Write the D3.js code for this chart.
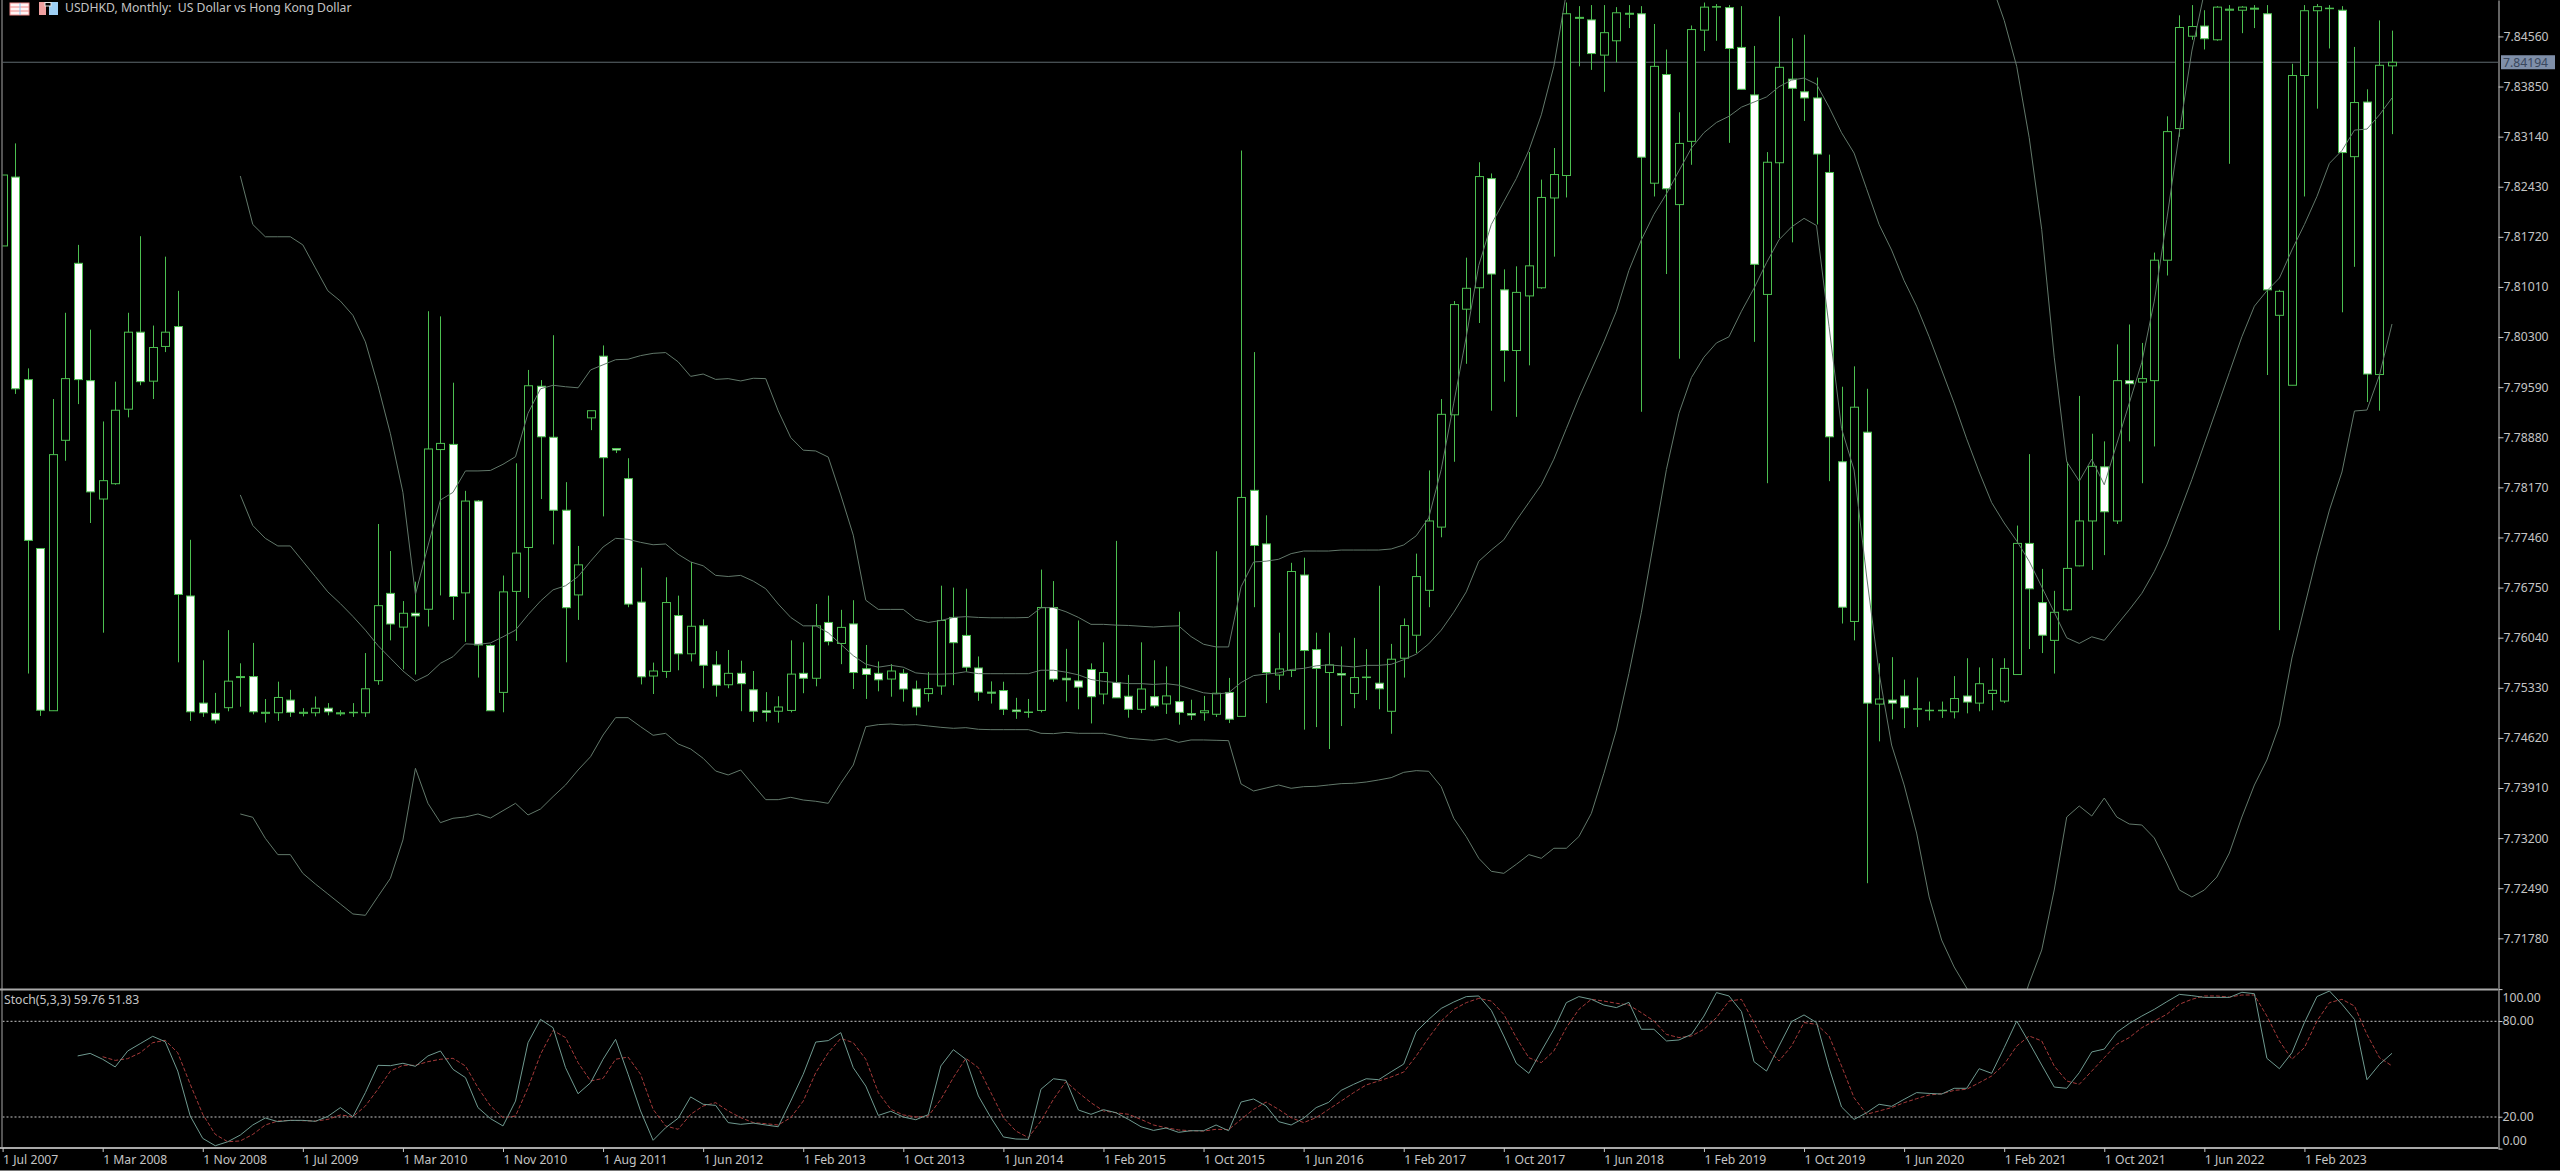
<!DOCTYPE html>
<html><head><meta charset="utf-8">
<script src="https://cdnjs.cloudflare.com/ajax/libs/d3/7.8.5/d3.min.js"></script>
<style>
html,body{margin:0;padding:0;background:#000;overflow:hidden}
svg{display:block}
text{font-family:"Noto Sans",sans-serif;font-size:12.2px;fill:#c4c4c4}
</style></head><body>
<svg id="c" width="2560" height="1171"></svg>
<script>
const titleText = "USDHKD, Monthly:  US Dollar vs Hong Kong Dollar";
const stochText = "Stoch(5,3,3) 59.76 51.83";
const lastPrice = 7.84194;
const priceTicks = [7.84560,7.83850,7.83140,7.82430,7.81720,7.81010,7.80300,7.79590,7.78880,7.78170,7.77460,7.76750,7.76040,7.75330,7.74620,7.73910,7.73200,7.72490,7.71780];
const stochTicks = [100,80,20,0];
const stochLevels = [80,20];
const dateLabels = ["1 Jul 2007","1 Mar 2008","1 Nov 2008","1 Jul 2009","1 Mar 2010","1 Nov 2010","1 Aug 2011","1 Jun 2012","1 Feb 2013","1 Oct 2013","1 Jun 2014","1 Feb 2015","1 Oct 2015","1 Jun 2016","1 Feb 2017","1 Oct 2017","1 Jun 2018","1 Feb 2019","1 Oct 2019","1 Jun 2020","1 Feb 2021","1 Oct 2021","1 Jun 2022","1 Feb 2023"];

const highs = [
7.82596,7.83044,7.79856,7.77304,7.79422,7.80644,7.81606,7.80405,7.79104,7.79668,
7.80644,7.81729,7.80463,7.81439,7.80955,7.77427,7.75720,7.75258,7.76147,7.75677,
7.75966,7.75171,7.75417,7.75301,7.75041,7.75207,7.75113,7.75012,7.75113,7.75822,
7.77651,7.77268,7.76559,7.76834,7.80666,7.80593,7.79653,7.78121,7.77991,7.75945,
7.76921,7.78511,7.79834,7.79690,7.80326,7.78244,7.77340,7.79256,7.80181,7.78728,
7.78583,7.77032,7.75687,7.76896,7.76636,7.77113,7.76300,7.75850,7.75866,7.75714,
7.75568,7.75269,7.75210,7.76002,7.75974,7.76517,7.76636,7.76435,7.76571,7.75937,
7.75703,7.75665,7.75595,7.75432,7.75552,7.76777,7.76750,7.76734,7.75774,7.75421,
7.75416,7.75188,7.75172,7.77005,7.76842,7.75882,7.76284,7.75676,7.75974,7.77412,
7.75513,7.75974,7.75720,7.75633,7.76408,7.75161,7.75215,7.77265,7.75470,7.82943,
7.80087,7.77774,7.76111,7.77101,7.77174,7.76111,7.76111,7.75916,7.76038,7.75879,
7.76776,7.75952,7.76313,7.77231,7.78410,7.79422,7.80810,7.81425,7.82777,7.82618,
7.81259,7.81302,7.82921,7.82531,7.82979,7.85040,7.84989,7.85004,7.85004,7.84975,
7.85004,7.84989,7.84736,7.84375,7.83485,7.84715,7.85040,7.85018,7.85004,7.84989,
7.84425,7.82921,7.84845,7.84534,7.84584,7.83977,7.82885,7.79596,7.79885,7.79567,
7.75677,7.75764,7.75446,7.75475,7.75135,7.75135,7.75496,7.75749,7.75619,7.75749,
7.75749,7.77629,7.78641,7.77015,7.76704,7.78533,7.79466,7.78930,7.78822,7.80196,
7.80478,7.80217,7.81497,7.83428,7.84859,7.85004,7.84931,7.84989,7.85004,7.84989,
7.85004,7.85004,7.80969,7.84172,7.85004,7.85018,7.85004,7.84989,7.84411,7.83811,
7.84787,7.84642];
const lows = [
7.81591,7.79494,7.75532,7.74932,7.75005,7.78547,7.79350,7.77665,7.76111,7.78207,
7.79162,7.79617,7.79422,7.80087,7.75691,7.74860,7.74918,7.74824,7.74997,7.75062,
7.74954,7.74838,7.74860,7.74918,7.74925,7.74925,7.74940,7.74932,7.74918,7.74918,
7.75373,7.76002,7.75590,7.75518,7.76198,7.76639,7.76292,7.75981,7.75475,7.75005,
7.74983,7.75995,7.76602,7.78005,7.77362,7.75691,7.76292,7.78981,7.77759,7.78656,
7.76472,7.75378,7.75242,7.75470,7.75578,7.75703,7.75324,7.75204,7.75324,7.74998,
7.74847,7.74852,7.74836,7.74982,7.75253,7.75351,7.75931,7.75665,7.75313,7.75172,
7.75280,7.75204,7.75134,7.74939,7.75134,7.75231,7.75367,7.75557,7.75145,7.75107,
7.74944,7.74890,7.74906,7.74982,7.75416,7.75134,7.75025,7.74825,7.75096,7.75188,
7.74906,7.74971,7.75042,7.74960,7.74808,7.74874,7.74863,7.74917,7.74830,7.74925,
7.76472,7.75113,7.75301,7.75482,7.74737,7.74773,7.74462,7.74788,7.75041,7.75156,
7.75026,7.74679,7.75475,7.75822,7.76472,7.77463,7.78533,7.79921,7.80499,7.79256,
7.79668,7.79169,7.79899,7.80984,7.81439,7.82278,7.84136,7.84086,7.83775,7.84194,
7.84678,7.79241,7.82292,7.81193,7.79993,7.82741,7.84353,7.84498,7.83052,7.83811,
7.80232,7.78229,7.81700,7.81642,7.83362,7.81895,7.78258,7.76241,7.76002,7.72561,
7.74571,7.74882,7.74759,7.74773,7.74867,7.74903,7.74896,7.74968,7.74997,7.75012,
7.75113,7.75518,7.75879,7.75822,7.75532,7.76415,7.77051,7.77000,7.77210,7.77651,
7.78822,7.78229,7.78750,7.81172,7.83138,7.84512,7.84375,7.84498,7.82755,7.84606,
7.84678,7.79762,7.76147,7.79617,7.82292,7.83536,7.84389,7.80651,7.81295,7.79379,
7.79256,7.83175];
const opens = [
7.81591,7.82567,7.79697,7.77304,7.75005,7.78837,7.81345,7.79682,7.78005,7.78222,
7.79278,7.80369,7.79675,7.80167,7.80449,7.76631,7.75113,7.74968,7.75048,7.75475,
7.75489,7.74968,7.74976,7.75156,7.74968,7.74976,7.75041,7.74961,7.74976,7.74976,
7.75431,7.76668,7.76190,7.76386,7.76443,7.78706,7.78779,7.76675,7.77976,7.75930,
7.75265,7.76696,7.77318,7.79603,7.78880,7.77846,7.76646,7.79155,7.80029,7.78721,
7.78294,7.76544,7.75497,7.75562,7.76354,7.75812,7.76208,7.75654,7.75373,7.75535,
7.75302,7.75004,7.74998,7.75009,7.75535,7.75465,7.76256,7.75958,7.76235,7.75600,
7.75535,7.75454,7.75535,7.75313,7.75248,7.75356,7.76327,7.76072,7.75611,7.75269,
7.75291,7.75015,7.74982,7.75009,7.76468,7.75465,7.75427,7.75589,7.75242,7.75405,
7.75210,7.75025,7.75204,7.75101,7.75134,7.74966,7.74977,7.74955,7.75264,7.74925,
7.78128,7.77369,7.75511,7.75576,7.76928,7.75872,7.75547,7.75532,7.75250,7.75475,
7.75395,7.74997,7.75749,7.76075,7.76711,7.77607,7.79198,7.80695,7.80998,7.82545,
7.80969,7.80109,7.80883,7.80998,7.82271,7.82589,7.84816,7.84794,7.84295,7.84498,
7.84874,7.84881,7.82480,7.84020,7.82177,7.83073,7.84649,7.84975,7.84968,7.84404,
7.83731,7.80904,7.82770,7.83955,7.83775,7.83688,7.82632,7.78533,7.76270,7.78952,
7.75099,7.75156,7.75214,7.75026,7.75005,7.75005,7.74990,7.75214,7.75113,7.75250,
7.75142,7.75518,7.77376,7.76537,7.76002,7.76436,7.77058,7.77694,7.78461,7.77694,
7.79682,7.79661,7.79682,7.81389,7.83254,7.84563,7.84707,7.84512,7.84931,7.84931,
7.84946,7.84881,7.80608,7.79617,7.84006,7.84924,7.84953,7.84931,7.82856,7.83630,
7.79769,7.84143];
const closes = [
7.82596,7.79567,7.77419,7.75012,7.78634,7.79711,7.79697,7.78106,7.78265,7.79263,
7.80369,7.79668,7.80152,7.80369,7.76653,7.74990,7.74976,7.74874,7.75424,7.75489,
7.74990,7.74983,7.75193,7.74983,7.74983,7.75041,7.74990,7.74976,7.74983,7.75316,
7.76494,7.76234,7.76386,7.76349,7.78714,7.78793,7.76624,7.77976,7.75937,7.75005,
7.76689,7.77239,7.79610,7.78887,7.77846,7.76465,7.77072,7.79256,7.78591,7.78699,
7.76516,7.75486,7.75568,7.76538,7.75812,7.76202,7.75649,7.75367,7.75535,7.75389,
7.74998,7.74982,7.75058,7.75524,7.75465,7.76208,7.75985,7.76186,7.75546,7.75519,
7.75443,7.75568,7.75313,7.75058,7.75318,7.76284,7.75969,7.75622,7.75269,7.75253,
7.75025,7.74993,7.74987,7.76468,7.75454,7.75443,7.75340,7.75204,7.75546,7.75188,
7.75025,7.75313,7.75074,7.75215,7.74982,7.74944,7.75004,7.75253,7.74885,7.78027,
7.77347,7.75547,7.75597,7.76978,7.75858,7.75605,7.75655,7.75511,7.75475,7.75482,
7.75316,7.75735,7.76212,7.76906,7.77694,7.79205,7.80760,7.80991,7.82574,7.81193,
7.80109,7.80933,7.81309,7.82278,7.82603,7.84881,7.84830,7.84317,7.84613,7.84895,
7.84888,7.82849,7.84136,7.82401,7.83044,7.84657,7.84975,7.84982,7.84389,7.83811,
7.81331,7.82777,7.84122,7.83825,7.83688,7.82893,7.78887,7.76472,7.79306,7.75113,
7.75171,7.75113,7.75048,7.75034,7.75012,7.75012,7.75178,7.75128,7.75388,7.75294,
7.75605,7.77376,7.76733,7.76075,7.76400,7.77022,7.77694,7.78468,7.77824,7.79682,
7.79639,7.79711,7.81389,7.83211,7.84686,7.84700,7.84527,7.84975,7.84946,7.84975,
7.84960,7.80969,7.80948,7.84006,7.84924,7.84982,7.84960,7.82914,7.83623,7.79776,
7.84151,7.84194];

// Bollinger bands, first value at bar 19
const bandStart = 19;
const upperBand = [
7.82582,7.81895,7.81721,7.81721,7.81721,7.81606,7.81280,7.80955,7.80810,7.80608,
7.80232,7.79617,7.78930,7.78099,7.76653,7.77340,7.77991,7.78099,7.78403,7.78403,
7.78410,7.78497,7.78605,7.79220,7.79567,7.79617,7.79596,7.79581,7.79834,7.79907,
7.79979,7.79986,7.80037,7.80069,7.80080,7.79949,7.79743,7.79776,7.79700,7.79711,
7.79678,7.79716,7.79711,7.79255,7.78876,7.78697,7.78686,7.78599,7.78062,7.77493,
7.76571,7.76441,7.76441,7.76441,7.76300,7.76256,7.76284,7.76327,7.76338,7.76327,
7.76322,7.76322,7.76322,7.76327,7.76463,7.76468,7.76408,7.76327,7.76229,7.76229,
7.76218,7.76213,7.76202,7.76191,7.76202,7.76208,7.76056,7.75947,7.75909,7.75909,
7.76761,7.77113,7.77124,7.77151,7.77231,7.77268,7.77268,7.77268,7.77282,7.77282,
7.77282,7.77282,7.77297,7.77354,7.77484,7.77738,7.78424,7.79364,7.80304,7.81316,
7.81895,7.82220,7.82545,7.82943,7.83449,7.84136,7.85177,
null,null,null,null,null,null,null,null,null,null,null,
null,null,null,null,null,null,null,null,null,null,null,
null,null,null,null,null,null,null,null,null,null,null,
7.85293,7.84787,7.84136,7.83124,7.81822,7.80015,7.78533,7.78258,7.78569,7.78207,
7.78786,7.79364,7.79943,7.80810,7.81967,7.83196,7.84353,7.85184,
null,null,null,null,null,null,null,null,null,null,null,null,null,null,null];
const middleBand = [
7.78063,7.77629,7.77448,7.77340,7.77340,7.77123,7.76906,7.76689,7.76523,7.76342,
7.76147,7.75930,7.75749,7.75569,7.75424,7.75511,7.75677,7.75771,7.75952,7.75945,
7.75966,7.76053,7.76147,7.76364,7.76559,7.76718,7.76776,7.76906,7.77123,7.77325,
7.77448,7.77434,7.77391,7.77357,7.77368,7.77222,7.77113,7.77059,7.76923,7.76907,
7.76923,7.76842,7.76734,7.76517,7.76327,7.76208,7.76208,7.76110,7.75947,7.75785,
7.75665,7.75622,7.75649,7.75622,7.75541,7.75524,7.75524,7.75530,7.75557,7.75530,
7.75530,7.75530,7.75530,7.75530,7.75579,7.75579,7.75552,7.75513,7.75448,7.75421,
7.75405,7.75389,7.75389,7.75378,7.75389,7.75367,7.75313,7.75259,7.75242,7.75259,
7.75405,7.75503,7.75524,7.75541,7.75590,7.75605,7.75641,7.75655,7.75641,7.75626,
7.75648,7.75648,7.75663,7.75728,7.75807,7.75952,7.76147,7.76400,7.76689,7.77123,
7.77282,7.77427,7.77701,7.77954,7.78207,7.78569,7.79003,7.79437,7.79834,7.80232,
7.80666,7.81244,7.81678,7.82039,7.82329,7.82654,7.82979,7.83196,7.83341,7.83428,
7.83558,7.83630,7.83702,7.83847,7.83941,7.83970,7.83883,7.83558,7.83196,7.82907,
7.82401,7.81895,7.81533,7.81099,7.80738,7.80304,7.79834,7.79364,7.78858,7.78388,
7.77954,7.77665,7.77412,7.77123,7.76761,7.76400,7.76038,7.75959,7.76053,7.76002,
7.76219,7.76436,7.76668,7.76978,7.77354,7.77810,7.78280,7.78786,7.79292,7.79798,
7.80304,7.80738,7.80955,7.81136,7.81533,7.81895,7.82292,7.82762,7.82943,7.83232,
7.83247,7.83449,7.83688];
const lowerBand = [
7.73542,7.73495,7.73197,7.72966,7.72966,7.72701,7.72550,7.72409,7.72267,7.72125,
7.72106,7.72371,7.72631,7.73174,7.74189,7.73693,7.73419,7.73481,7.73500,7.73542,
7.73485,7.73589,7.73693,7.73528,7.73613,7.73788,7.73953,7.74165,7.74354,7.74661,
7.74907,7.74907,7.74779,7.74657,7.74685,7.74534,7.74463,7.74331,7.74151,7.74095,
7.74165,7.73953,7.73745,7.73745,7.73778,7.73740,7.73722,7.73693,7.73977,7.74236,
7.74779,7.74808,7.74817,7.74803,7.74808,7.74789,7.74770,7.74756,7.74765,7.74742,
7.74737,7.74737,7.74737,7.74737,7.74685,7.74680,7.74699,7.74685,7.74685,7.74685,
7.74652,7.74614,7.74600,7.74586,7.74609,7.74557,7.74591,7.74591,7.74586,7.74581,
7.73967,7.73868,7.73910,7.73953,7.73906,7.73929,7.73934,7.73953,7.73972,7.73977,
7.73995,7.74024,7.74057,7.74132,7.74156,7.74147,7.73929,7.73481,7.73221,7.72914,
7.72730,7.72701,7.72829,7.72966,7.72914,7.73056,7.73056,7.73221,7.73551,7.74118,
7.74732,7.75532,7.76400,7.77412,7.78424,7.79220,7.79726,7.80015,7.80217,7.80304,
7.80666,7.80991,7.81353,7.81678,7.81859,7.81982,7.81880,7.80449,7.79003,7.78416,
7.76914,7.75540,7.74519,7.73953,7.73272,7.72366,7.71756,7.71374,7.71076,7.70764,
7.70481,7.70339,7.70623,7.71147,7.71614,7.72465,7.73499,7.73655,7.73513,7.73768,
7.73499,7.73400,7.73386,7.73202,7.72847,7.72465,7.72366,7.72465,7.72649,7.72989,
7.73499,7.73953,7.74307,7.74803,7.75752,7.76475,7.77197,7.77849,7.78388,7.79252,
7.79266,7.79762,7.80485];

// Stochastic: %K from bar 6, %D from bar 8
const stochKStart = 6;
const stochK = [
58.1,59.7,56.0,51.2,61.2,65.8,70.4,67.0,48.6,20.4,6.4,1.8,4.3,8.5,14.8,19.2,16.9,17.7,17.7,17.1,
20.2,25.7,20.0,35.1,52.2,52.0,53.5,51.6,58.1,61.2,49.7,44.5,25.7,18.8,14.2,29.8,66.4,81.0,75.8,50.7,
34.4,41.3,56.0,68.5,46.6,23.6,5.2,13.1,19.0,32.4,27.8,27.1,16.3,15.2,16.0,14.8,13.7,29.8,46.6,66.8,
67.7,72.7,50.7,39.2,20.8,23.4,19.8,18.1,21.3,51.8,62.0,56.0,33.0,19.4,7.3,6.0,5.8,37.2,43.8,42.8,
24.2,21.5,24.4,22.5,18.3,13.7,11.4,12.9,10.2,11.2,11.2,14.8,11.2,29.2,31.1,26.7,16.9,14.8,19.0,25.7,
29.0,36.5,40.3,43.8,43.2,48.2,53.0,73.3,81.0,87.9,91.9,95.3,95.7,86.7,70.6,53.5,47.2,61.2,74.8,91.5,
95.3,93.6,90.0,88.4,91.7,74.8,74.8,67.5,68.1,71.6,83.1,97.8,95.7,85.9,54.5,48.6,64.3,79.6,83.8,79.0,
50.7,26.1,18.3,22.5,27.8,26.5,30.9,35.1,34.6,34.2,37.8,37.8,50.1,47.2,63.3,80.0,66.4,52.4,38.6,37.8,
47.6,60.6,62.4,72.9,78.5,83.1,87.3,92.1,96.7,95.9,94.8,94.8,94.8,98.0,97.1,56.6,50.1,60.1,79.0,95.3,
98.8,90.5,81.0,43.2,52.8,59.76];
const stochDStart = 8;
const stochD = [
57.6,55.3,56.4,60.1,66.4,67.9,60.1,40.3,21.5,8.9,4.3,4.8,8.9,14.8,17.3,17.7,17.5,17.3,18.3,21.1,
20.0,26.7,37.2,48.6,52.2,52.2,54.5,56.0,56.6,51.8,38.2,26.7,19.4,20.4,38.2,59.1,74.1,69.6,53.9,42.4,
44.0,56.0,57.4,46.6,24.6,14.2,12.1,21.5,26.7,28.8,23.6,19.4,16.3,15.6,14.8,19.4,29.8,47.6,60.1,69.1,
66.4,56.0,35.1,24.6,21.1,19.8,20.4,30.9,44.5,56.6,50.7,35.1,19.4,11.0,6.9,17.3,30.9,42.0,35.1,28.8,
23.6,22.5,21.5,18.3,14.8,13.1,11.7,11.2,11.0,12.1,11.9,18.3,24.6,29.2,24.6,19.4,16.3,19.4,24.6,29.8,
35.1,39.9,42.4,44.9,48.0,58.1,69.6,80.0,87.3,91.5,94.2,92.5,84.2,69.6,57.0,53.9,61.2,75.8,87.3,93.6,
92.5,91.1,90.0,85.2,80.0,71.6,69.6,70.6,74.8,82.1,92.5,93.6,79.0,63.3,54.9,64.3,79.0,77.9,70.6,51.8,
31.9,21.5,23.6,25.7,28.8,31.3,33.6,34.4,36.5,37.2,41.3,45.5,52.8,64.3,70.6,67.5,51.8,42.4,40.3,48.6,
57.0,65.4,69.6,75.8,80.0,84.2,90.5,93.6,95.7,95.7,95.0,96.3,96.3,83.1,67.5,56.0,63.3,80.0,91.5,93.6,
89.4,71.6,57.0,51.83];

const svg = d3.select("#c");
const W = 2560, H = 1171, axisX = 2498, paneTop = 989, paneBottom = 1148, leftX = 2.5;
const GREEN = "#4cbf50", BAND = "#62786a", KCOL = "#6f9a90", DCOL = "#a53a3a", CHROME = "#a8a8a8";

svg.append("rect").attr("width", W).attr("height", H).attr("fill", "#000");

const x = d3.scaleLinear().domain([0, 191]).range([2.6, 2392]);
const y = d3.scaleLinear().domain([7.85076, 7.71062]).range([0, paneTop]);
const yS = d3.scaleLinear().domain([0, 100]).range([1148.6, 989.1]);

const defs = svg.append("defs");
defs.append("clipPath").attr("id", "main").append("rect")
  .attr("x", leftX).attr("y", 0).attr("width", axisX - leftX).attr("height", paneTop);
defs.append("clipPath").attr("id", "sub").append("rect")
  .attr("x", leftX).attr("y", paneTop).attr("width", axisX - leftX).attr("height", paneBottom - paneTop);

const main = svg.append("g").attr("clip-path", "url(#main)");

// last-price line
main.append("line").attr("x1", leftX).attr("x2", axisX)
  .attr("y1", y(lastPrice)).attr("y2", y(lastPrice))
  .attr("stroke", "#5f6a70").attr("stroke-width", 1);

// candles
const idx = d3.range(closes.length);
main.append("g").selectAll("line").data(idx).join("line")
  .attr("x1", i => Math.round(x(i)) + 0.5).attr("x2", i => Math.round(x(i)) + 0.5)
  .attr("y1", i => y(highs[i])).attr("y2", i => y(lows[i]))
  .attr("stroke", GREEN).attr("stroke-width", 1);
main.append("g").selectAll("rect").data(idx).join("rect")
  .attr("x", i => Math.round(x(i)) - 3.5).attr("width", 8)
  .attr("y", i => y(Math.max(opens[i], closes[i])))
  .attr("height", i => Math.max(0.5, Math.abs(y(opens[i]) - y(closes[i]))))
  .attr("fill", i => closes[i] < opens[i] ? "#ffffff" : "#000000")
  .attr("stroke", GREEN).attr("stroke-width", 1);

// Bollinger bands
const bandLine = d3.line().defined(d => d.v !== null).x(d => x(d.i)).y(d => y(d.v));
[upperBand, middleBand, lowerBand].forEach(arr => {
  main.append("path")
    .datum(arr.map((v, k) => ({ i: bandStart + k, v })))
    .attr("d", bandLine).attr("fill", "none").attr("stroke", BAND).attr("stroke-width", 1);
});

// stochastic pane
const sub = svg.append("g").attr("clip-path", "url(#sub)");
sub.selectAll("line.lvl").data(stochLevels).join("line").attr("class", "lvl")
  .attr("x1", leftX).attr("x2", axisX)
  .attr("y1", d => yS(d) + 0.3).attr("y2", d => yS(d) + 0.3)
  .attr("stroke", "#c8c8c8").attr("stroke-width", 1).attr("stroke-dasharray", "2 2");
const sLine = d3.line().x(d => x(d.i)).y(d => yS(d.v));
sub.append("path").datum(stochD.map((v, k) => ({ i: stochDStart + k, v })))
  .attr("d", sLine).attr("fill", "none").attr("stroke", DCOL).attr("stroke-width", 1).attr("stroke-dasharray", "4 2");
sub.append("path").datum(stochK.map((v, k) => ({ i: stochKStart + k, v })))
  .attr("d", sLine).attr("fill", "none").attr("stroke", KCOL).attr("stroke-width", 1);

// chrome lines
const chrome = svg.append("g").attr("stroke", CHROME);
chrome.append("line").attr("x1", 0).attr("x2", axisX).attr("y1", 989.5).attr("y2", 989.5).attr("stroke-width", 2);
chrome.append("line").attr("x1", 0).attr("x2", axisX).attr("y1", 1148).attr("y2", 1148).attr("stroke-width", 2);
chrome.append("line").attr("x1", 2).attr("x2", 2).attr("y1", 0).attr("y2", 1148).attr("stroke-width", 1);
chrome.append("line").attr("x1", 0).attr("x2", W).attr("y1", 1170.5).attr("y2", 1170.5).attr("stroke", "#777").attr("stroke-width", 1);

// price axis
const yAxis = svg.append("g").attr("transform", `translate(${axisX + 0.5},0)`)
  .call(d3.axisRight(y).tickValues(priceTicks).tickFormat(d3.format(".5f")).tickSize(5).tickSizeOuter(0).tickPadding(0));
yAxis.selectAll("path,line").attr("stroke", "#c8c8c8");
yAxis.attr("font-family", null).attr("font-size", null);

// last-price tag
const tag = svg.append("g").attr("transform", `translate(2501,${y(lastPrice)})`);
tag.append("rect").attr("x", 0).attr("y", -7).attr("width", 54).attr("height", 14).attr("fill", "#7f8fa9");
tag.append("text").attr("x", 2).attr("dy", "0.35em").text(d3.format(".5f")(lastPrice)).style("fill", "#38465c");

// stochastic axis
const sAxis = svg.append("g").attr("transform", `translate(${axisX + 0.5},0)`)
  .call(d3.axisRight(yS).tickValues(stochTicks).tickFormat(d3.format(".2f")).tickSize(4).tickSizeOuter(0).tickPadding(0));
sAxis.selectAll("path,line").attr("stroke", "#c8c8c8");
sAxis.selectAll(".tick text").attr("dy", d => d === 100 ? "1.0em" : d === 0 ? "-0.3em" : "0.32em");
sAxis.attr("font-family", null).attr("font-size", null);

// time axis
const xAxis = svg.append("g").attr("transform", `translate(0,${paneBottom})`)
  .call(d3.axisBottom(x).tickValues(d3.range(0, 192, 8)).tickFormat((d, k) => dateLabels[k]).tickSize(4).tickSizeOuter(0).tickPadding(3));
xAxis.select(".domain").remove();
xAxis.selectAll("line").attr("stroke", "#c8c8c8");
xAxis.selectAll("text").attr("text-anchor", "start").attr("x", 0);
xAxis.attr("font-family", null).attr("font-size", null);

// header
svg.append("text").attr("x", 65).attr("y", 12).text(titleText).style("white-space", "pre");
svg.append("text").attr("x", 4).attr("y", 1004).text(stochText);

// header icons
const ic1 = svg.append("g").attr("transform", "translate(10,3)");
ic1.append("rect").attr("width", 19).attr("height", 12).attr("fill", "#fff5f5").attr("stroke", "#f08a8a");
[4, 8].forEach(t => ic1.append("line").attr("x1", 0).attr("x2", 19).attr("y1", t).attr("y2", t).attr("stroke", "#f08a8a"));
ic1.append("line").attr("x1", 10).attr("x2", 10).attr("y1", 0).attr("y2", 12).attr("stroke", "#8fc4f0");
const ic2 = svg.append("g").attr("transform", "translate(39,2)");
ic2.append("rect").attr("width", 7).attr("height", 13).attr("fill", "#f0a0a0");
ic2.append("rect").attr("x", 10).attr("width", 9).attr("height", 13).attr("fill", "#9fd0f5");
ic2.append("rect").attr("x", 6).attr("y", 0.5).attr("width", 6).attr("height", 3.5).attr("fill", "#000").attr("stroke", "#e8e8e8");
</script>
</body></html>
